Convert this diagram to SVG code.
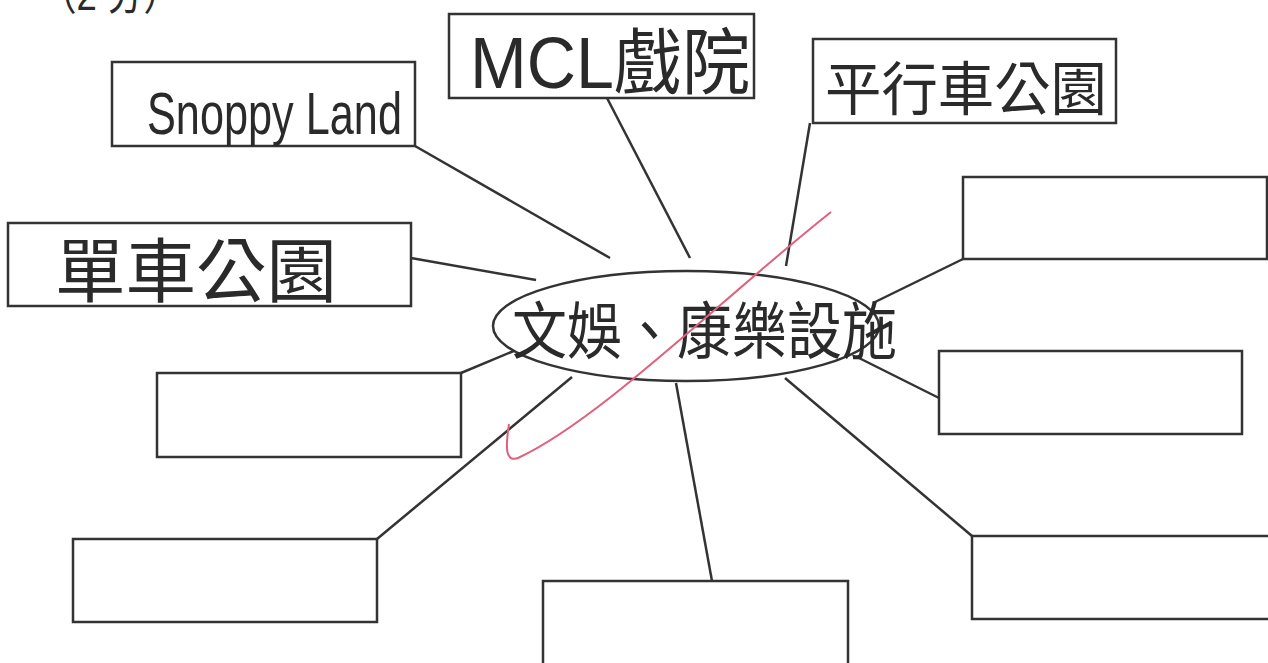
<svg xmlns="http://www.w3.org/2000/svg" width="1268" height="663" viewBox="0 0 1268 663">
<style>
.box{fill:none;stroke:#333;stroke-width:2.5}
.ln{stroke:#333;stroke-width:2.5;fill:none}
.hw{font-family:"Liberation Sans","Noto Sans CJK TC",sans-serif;fill:#2a2a2a}
</style>
<rect width="1268" height="663" fill="#fff"/>
<text class="hw" x="40" y="10" font-size="44" textLength="140" lengthAdjust="spacingAndGlyphs">（2 分）</text>
<g id="connectors">
<line class="ln" x1="415" y1="146" x2="610" y2="258"/>
<line class="ln" x1="607" y1="98" x2="690" y2="258"/>
<line class="ln" x1="810" y1="123" x2="786" y2="266"/>
<line class="ln" x1="411" y1="258" x2="536" y2="280"/>
<line class="ln" x1="963" y1="259" x2="873" y2="303"/>
<line class="ln" x1="939" y1="398" x2="857" y2="357"/>
<line class="ln" x1="972" y1="536" x2="785" y2="378"/>
<line class="ln" x1="712" y1="581" x2="676" y2="383"/>
<line class="ln" x1="377" y1="539" x2="572" y2="377"/>
<line class="ln" x1="461" y1="373" x2="516" y2="350"/>
</g>
<g id="center">
<ellipse cx="686" cy="326" rx="193" ry="55" fill="#fff" stroke="#333" stroke-width="2.5"/>
<text class="hw" x="512" y="354" font-size="62" textLength="385" lengthAdjust="spacingAndGlyphs">文娛、康樂設施</text>
</g>
<g id="n-snoppy">
<rect class="box" x="112" y="62" width="303" height="84"/>
<text class="hw" x="147" y="134" font-size="60" textLength="255" lengthAdjust="spacingAndGlyphs">Snoppy Land</text>
</g>
<g id="n-mcl">
<rect class="box" x="449" y="14" width="305" height="84"/>
<text class="hw" x="470" y="88" font-size="72" textLength="280" lengthAdjust="spacingAndGlyphs">MCL戲院</text>
</g>
<g id="n-parallel">
<rect class="box" x="813" y="39" width="303" height="84"/>
<text class="hw" x="825" y="110" font-size="58" textLength="282" lengthAdjust="spacingAndGlyphs">平行車公園</text>
</g>
<g id="n-bike">
<rect class="box" x="8" y="223" width="403" height="83"/>
<text class="hw" x="55" y="297" font-size="70" textLength="282" lengthAdjust="spacingAndGlyphs">單車公園</text>
</g>
<g id="n-r1"><rect class="box" x="963" y="177" width="304" height="82"/></g>
<g id="n-r2"><rect class="box" x="939" y="351" width="303" height="83"/></g>
<g id="n-r3"><rect class="box" x="972" y="536" width="300" height="83"/></g>
<g id="n-b"><rect class="box" x="543" y="581" width="305" height="90"/></g>
<g id="n-bl"><rect class="box" x="73" y="539" width="304" height="83"/></g>
<g id="n-l"><rect class="box" x="157" y="373" width="304" height="84"/></g>
<path d="M509 424 C505 450 506 462 518 458 C 600 420 720 300 831 212" fill="none" stroke="#e0607e" stroke-width="2"/>
</svg>
